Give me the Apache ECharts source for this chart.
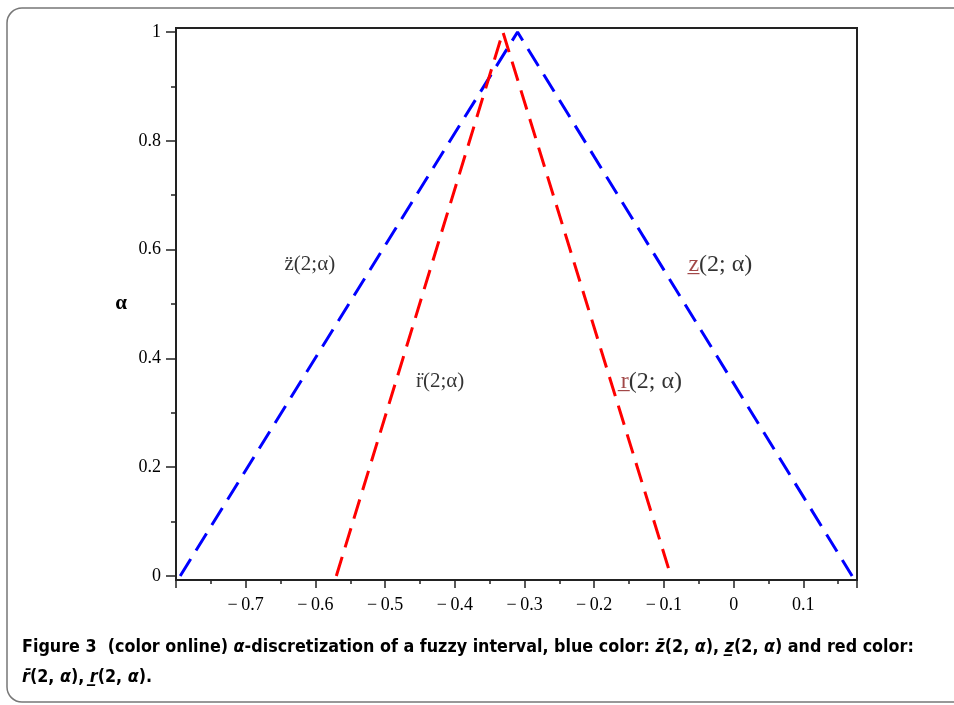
<!DOCTYPE html>
<html>
<head>
<meta charset="utf-8">
<script src="https://cdn.jsdelivr.net/npm/echarts@6/dist/echarts.min.js"></script>
<style>html,body{margin:0;padding:0;background:#fff;}#c{width:954px;height:705px;}</style>
</head>
<body>
<div id="c"></div>
<script>
// Data
const blueZ = [[-0.794, 0], [-0.310, 1], [0.170, 0]];
const redR = [[-0.570, 0], [-0.331, 1], [-0.090, 0]];
const xTickLabels = [-0.7, -0.6, -0.5, -0.4, -0.3, -0.2, -0.1, 0, 0.1];
const yTickLabels = [0, 0.2, 0.4, 0.6, 0.8, 1];
const annotX = [-0.608, -0.019, -0.421, -0.118];
const annotY = [0.572, 0.572, 0.358, 0.358];
const annotText = ['{a|z\u0308(2;α)}', '{u|z\u0332}{b|(2; α)}', '{a|r\u0308(2;α)}', '{u|r\u0332}{b|(2; α)}'];

const serif = '"Liberation Serif", "DejaVu Serif", serif';
const chart = echarts.init(document.getElementById('c'), null, {renderer: 'canvas'});

function fmtX(v) {
  const r = Math.round(v * 100) / 100;
  const match = xTickLabels.some(t => Math.abs(t - r) < 1e-6);
  if (!match) return '';
  if (r === 0) return '0';
  return (r < 0 ? '\u2212\u2009' : '') + Math.abs(r).toString();
}
function fmtY(v) {
  const r = Math.round(v * 100) / 100;
  return yTickLabels.some(t => Math.abs(t - r) < 1e-6) ? String(r) : '';
}

const axisColor = '#222';
chart.setOption({
  backgroundColor: '#fff',
  animation: false,
  grid: [
    {left: 176, right: 97, top: 32, bottom: 129, show: false},
    {left: 176, right: 97, top: 28, bottom: 125, show: true, borderColor: axisColor, borderWidth: 2, backgroundColor: 'transparent'}
  ],
  xAxis: [{
    gridIndex: 0, type: 'value', min: -0.8, max: 0.177, interval: 0.1, offset: 4,
    axisLine: {show: true, onZero: false, lineStyle: {color: axisColor, width: 2}},
    axisTick: {show: true, length: 8, lineStyle: {color: axisColor, width: 1.5}},
    minorTick: {show: true, splitNumber: 2, length: 4, lineStyle: {color: axisColor, width: 1.5}},
    splitLine: {show: false},
    axisLabel: {formatter: fmtX, showMinLabel: false, showMaxLabel: false, color: '#000', fontFamily: serif, fontSize: 18, margin: 16}
  }, {
    gridIndex: 1, type: 'value', min: 0, max: 1, show: false
  }],
  yAxis: [{
    gridIndex: 0, type: 'value', min: 0, max: 1, interval: 0.2,
    name: 'α', nameLocation: 'middle', nameGap: 49, nameRotate: 0,
    nameTextStyle: {fontFamily: serif, fontSize: 21, fontWeight: 'bold', color: '#000'},
    axisLine: {show: true, onZero: false, lineStyle: {color: axisColor, width: 2}},
    axisTick: {show: true, length: 10, lineStyle: {color: axisColor, width: 1.5}},
    minorTick: {show: true, splitNumber: 2, length: 5, lineStyle: {color: axisColor, width: 1.5}},
    splitLine: {show: false},
    axisLabel: {formatter: fmtY, color: '#000', fontFamily: serif, fontSize: 18, margin: 15}
  }, {
    gridIndex: 1, type: 'value', min: 0, max: 1, show: false
  }],
  series: [
    {type: 'line', xAxisIndex: 0, yAxisIndex: 0, data: blueZ, symbol: 'none',
     lineStyle: {color: '#0000ff', width: 3, type: [20, 10]}},
    {type: 'line', xAxisIndex: 0, yAxisIndex: 0, data: redR, symbol: 'none',
     lineStyle: {color: '#ff0000', width: 3, type: [20, 10]}},
    {type: 'scatter', xAxisIndex: 0, yAxisIndex: 0, symbolSize: 0, silent: true,
     data: annotX.map((x, i) => ({value: [x, annotY[i]], label: {formatter: annotText[i]}})),
     label: {show: true, position: 'inside',
       rich: {
         a: {fontFamily: serif, fontSize: 21, color: '#000'},
         b: {fontFamily: serif, fontSize: 24, color: '#000'},
         u: {fontFamily: serif, fontSize: 24, color: '#8b1a1a'}
       }}}
  ],
  graphic: [
    {type: 'rect', shape: {x: 7, y: 8, width: 1000, height: 694, r: 15},
     style: {fill: 'none', stroke: '#777', lineWidth: 1.5}, silent: true},
    {type: 'text', left: 22, top: 638,
     style: {
       text: '{b|Figure 3  (color online) }{i|α}{b|-discretization of a fuzzy interval, blue color: }{i|z\u0304}{b|(2, }{i|α}{b|), }{i|z\u0332}{b|(2, }{i|α}{b|) and red color:}\n{i|r\u0304}{b|(2, }{i|α}{b|), }{i|r\u0332}{b|(2, }{i|α}{b|).}',
       rich: {
         b: {fontFamily: '"Liberation Sans Narrow", "DejaVu Sans Condensed", "Liberation Sans", sans-serif', fontSize: 17.75, fontWeight: 'bold', color: '#111', lineHeight: 30},
         i: {fontFamily: '"Liberation Sans Narrow", "DejaVu Sans Condensed", "Liberation Sans", sans-serif', fontSize: 17.75, fontWeight: 'bold', fontStyle: 'italic', color: '#111', lineHeight: 30}
       }
     }}
  ]
});
</script>
</body>
</html>
